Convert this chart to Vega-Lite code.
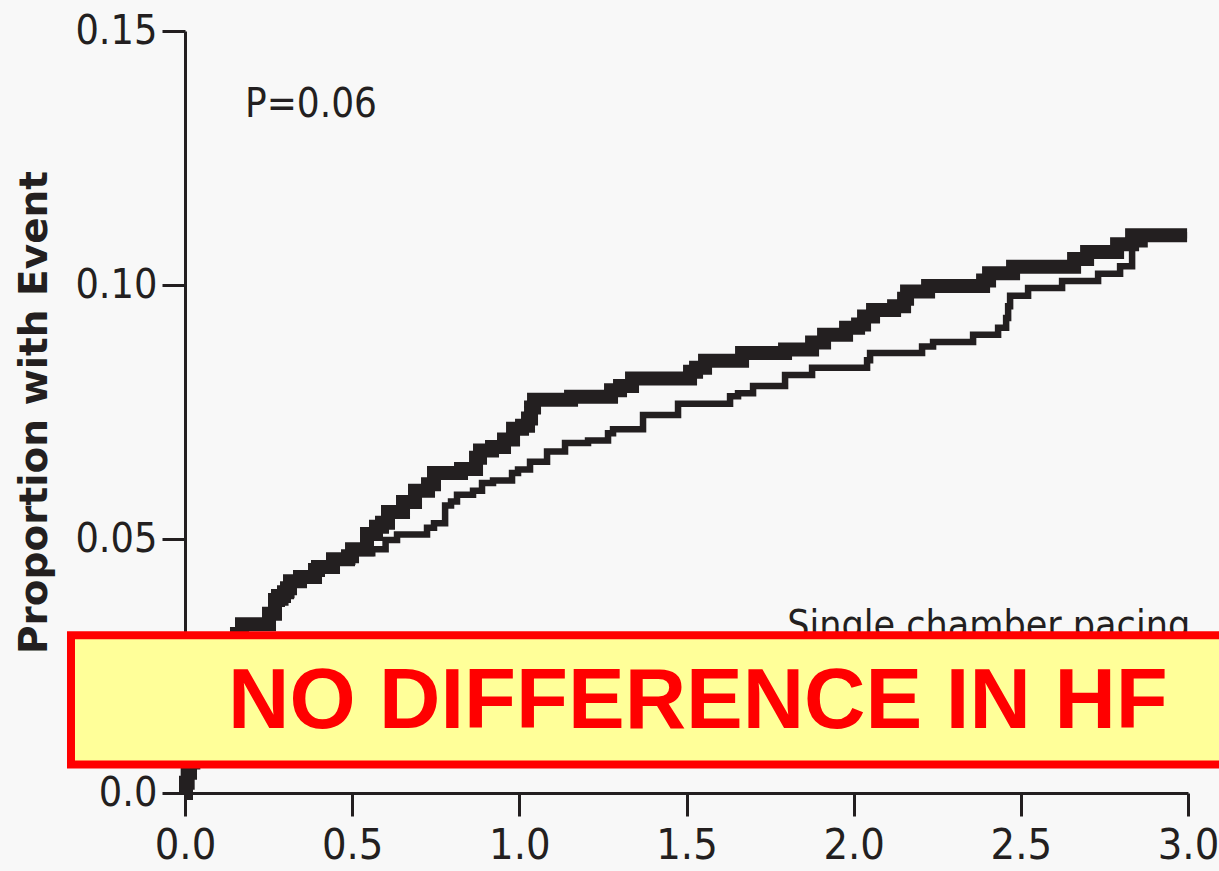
{
  "$schema": "https://vega.github.io/schema/vega-lite/v6.json",
  "width": 1003,
  "height": 762,
  "autosize": {"type": "none"},
  "padding": {"left": 185, "top": 31, "right": 31, "bottom": 78},
  "background": "#f8f8f8",
  "config": {"view": {"stroke": null}},
  "datasets": {
    "curves": [
      {"group": "Single chamber pacing", "t": 0.000, "p": 0.0000},
      {"group": "Single chamber pacing", "t": 0.004, "p": 0.0020},
      {"group": "Single chamber pacing", "t": 0.010, "p": 0.0040},
      {"group": "Single chamber pacing", "t": 0.018, "p": 0.0060},
      {"group": "Single chamber pacing", "t": 0.030, "p": 0.0090},
      {"group": "Single chamber pacing", "t": 0.045, "p": 0.0130},
      {"group": "Single chamber pacing", "t": 0.065, "p": 0.0170},
      {"group": "Single chamber pacing", "t": 0.085, "p": 0.0210},
      {"group": "Single chamber pacing", "t": 0.105, "p": 0.0250},
      {"group": "Single chamber pacing", "t": 0.130, "p": 0.0285},
      {"group": "Single chamber pacing", "t": 0.160, "p": 0.0310},
      {"group": "Single chamber pacing", "t": 0.175, "p": 0.0327},
      {"group": "Single chamber pacing", "t": 0.255, "p": 0.0348},
      {"group": "Single chamber pacing", "t": 0.272, "p": 0.0375},
      {"group": "Single chamber pacing", "t": 0.300, "p": 0.0390},
      {"group": "Single chamber pacing", "t": 0.318, "p": 0.0411},
      {"group": "Single chamber pacing", "t": 0.348, "p": 0.0420},
      {"group": "Single chamber pacing", "t": 0.400, "p": 0.0439},
      {"group": "Single chamber pacing", "t": 0.445, "p": 0.0455},
      {"group": "Single chamber pacing", "t": 0.500, "p": 0.0472},
      {"group": "Single chamber pacing", "t": 0.560, "p": 0.0480},
      {"group": "Single chamber pacing", "t": 0.600, "p": 0.0498},
      {"group": "Single chamber pacing", "t": 0.6342, "p": 0.0509},
      {"group": "Single chamber pacing", "t": 0.7239, "p": 0.0522},
      {"group": "Single chamber pacing", "t": 0.7448, "p": 0.0531},
      {"group": "Single chamber pacing", "t": 0.7780, "p": 0.0566},
      {"group": "Single chamber pacing", "t": 0.7957, "p": 0.0574},
      {"group": "Single chamber pacing", "t": 0.8136, "p": 0.0587},
      {"group": "Single chamber pacing", "t": 0.8615, "p": 0.0595},
      {"group": "Single chamber pacing", "t": 0.8884, "p": 0.0610},
      {"group": "Single chamber pacing", "t": 0.9213, "p": 0.0615},
      {"group": "Single chamber pacing", "t": 0.9782, "p": 0.0630},
      {"group": "Single chamber pacing", "t": 0.9961, "p": 0.0637},
      {"group": "Single chamber pacing", "t": 1.0320, "p": 0.0652},
      {"group": "Single chamber pacing", "t": 1.0829, "p": 0.0672},
      {"group": "Single chamber pacing", "t": 1.1367, "p": 0.0689},
      {"group": "Single chamber pacing", "t": 1.2055, "p": 0.0694},
      {"group": "Single chamber pacing", "t": 1.2653, "p": 0.0708},
      {"group": "Single chamber pacing", "t": 1.2803, "p": 0.0716},
      {"group": "Single chamber pacing", "t": 1.3700, "p": 0.0744},
      {"group": "Single chamber pacing", "t": 1.4747, "p": 0.0766},
      {"group": "Single chamber pacing", "t": 1.6303, "p": 0.0781},
      {"group": "Single chamber pacing", "t": 1.6542, "p": 0.0787},
      {"group": "Single chamber pacing", "t": 1.6991, "p": 0.0801},
      {"group": "Single chamber pacing", "t": 1.7948, "p": 0.0823},
      {"group": "Single chamber pacing", "t": 1.8756, "p": 0.0837},
      {"group": "Single chamber pacing", "t": 2.0401, "p": 0.0852},
      {"group": "Single chamber pacing", "t": 2.0491, "p": 0.0866},
      {"group": "Single chamber pacing", "t": 2.2046, "p": 0.0879},
      {"group": "Single chamber pacing", "t": 2.2375, "p": 0.0888},
      {"group": "Single chamber pacing", "t": 2.3572, "p": 0.0902},
      {"group": "Single chamber pacing", "t": 2.4320, "p": 0.0916},
      {"group": "Single chamber pacing", "t": 2.4560, "p": 0.0935},
      {"group": "Single chamber pacing", "t": 2.4620, "p": 0.0958},
      {"group": "Single chamber pacing", "t": 2.4679, "p": 0.0979},
      {"group": "Single chamber pacing", "t": 2.5217, "p": 0.0994},
      {"group": "Single chamber pacing", "t": 2.6234, "p": 0.1008},
      {"group": "Single chamber pacing", "t": 2.7311, "p": 0.1022},
      {"group": "Single chamber pacing", "t": 2.7969, "p": 0.1037},
      {"group": "Single chamber pacing", "t": 2.8328, "p": 0.1080},
      {"group": "Single chamber pacing", "t": 2.8700, "p": 0.1098},
      {"group": "Single chamber pacing", "t": 2.9973, "p": 0.1098},
      {"group": "Dual chamber pacing", "t": 0.000, "p": 0.0000},
      {"group": "Dual chamber pacing", "t": 0.003, "p": 0.0020},
      {"group": "Dual chamber pacing", "t": 0.008, "p": 0.0040},
      {"group": "Dual chamber pacing", "t": 0.015, "p": 0.0060},
      {"group": "Dual chamber pacing", "t": 0.025, "p": 0.0090},
      {"group": "Dual chamber pacing", "t": 0.040, "p": 0.0130},
      {"group": "Dual chamber pacing", "t": 0.060, "p": 0.0170},
      {"group": "Dual chamber pacing", "t": 0.080, "p": 0.0210},
      {"group": "Dual chamber pacing", "t": 0.100, "p": 0.0250},
      {"group": "Dual chamber pacing", "t": 0.125, "p": 0.0290},
      {"group": "Dual chamber pacing", "t": 0.1555, "p": 0.0313},
      {"group": "Dual chamber pacing", "t": 0.1705, "p": 0.0332},
      {"group": "Dual chamber pacing", "t": 0.2513, "p": 0.0353},
      {"group": "Dual chamber pacing", "t": 0.2692, "p": 0.0380},
      {"group": "Dual chamber pacing", "t": 0.2782, "p": 0.0388},
      {"group": "Dual chamber pacing", "t": 0.2961, "p": 0.0395},
      {"group": "Dual chamber pacing", "t": 0.3051, "p": 0.0403},
      {"group": "Dual chamber pacing", "t": 0.3141, "p": 0.0417},
      {"group": "Dual chamber pacing", "t": 0.3440, "p": 0.0425},
      {"group": "Dual chamber pacing", "t": 0.3889, "p": 0.0439},
      {"group": "Dual chamber pacing", "t": 0.3978, "p": 0.0445},
      {"group": "Dual chamber pacing", "t": 0.4427, "p": 0.0460},
      {"group": "Dual chamber pacing", "t": 0.4876, "p": 0.0466},
      {"group": "Dual chamber pacing", "t": 0.4996, "p": 0.0480},
      {"group": "Dual chamber pacing", "t": 0.5444, "p": 0.0510},
      {"group": "Dual chamber pacing", "t": 0.5713, "p": 0.0524},
      {"group": "Dual chamber pacing", "t": 0.5893, "p": 0.0532},
      {"group": "Dual chamber pacing", "t": 0.6072, "p": 0.0553},
      {"group": "Dual chamber pacing", "t": 0.6521, "p": 0.0573},
      {"group": "Dual chamber pacing", "t": 0.6880, "p": 0.0595},
      {"group": "Dual chamber pacing", "t": 0.7269, "p": 0.0608},
      {"group": "Dual chamber pacing", "t": 0.7448, "p": 0.0630},
      {"group": "Dual chamber pacing", "t": 0.8256, "p": 0.0638},
      {"group": "Dual chamber pacing", "t": 0.8705, "p": 0.0660},
      {"group": "Dual chamber pacing", "t": 0.8824, "p": 0.0674},
      {"group": "Dual chamber pacing", "t": 0.9183, "p": 0.0681},
      {"group": "Dual chamber pacing", "t": 0.9542, "p": 0.0696},
      {"group": "Dual chamber pacing", "t": 0.9812, "p": 0.0717},
      {"group": "Dual chamber pacing", "t": 1.0081, "p": 0.0723},
      {"group": "Dual chamber pacing", "t": 1.0260, "p": 0.0737},
      {"group": "Dual chamber pacing", "t": 1.0350, "p": 0.0759},
      {"group": "Dual chamber pacing", "t": 1.0440, "p": 0.0774},
      {"group": "Dual chamber pacing", "t": 1.1547, "p": 0.0780},
      {"group": "Dual chamber pacing", "t": 1.2743, "p": 0.0793},
      {"group": "Dual chamber pacing", "t": 1.3012, "p": 0.0801},
      {"group": "Dual chamber pacing", "t": 1.3371, "p": 0.0816},
      {"group": "Dual chamber pacing", "t": 1.5106, "p": 0.0829},
      {"group": "Dual chamber pacing", "t": 1.5286, "p": 0.0837},
      {"group": "Dual chamber pacing", "t": 1.5555, "p": 0.0851},
      {"group": "Dual chamber pacing", "t": 1.6662, "p": 0.0866},
      {"group": "Dual chamber pacing", "t": 1.7948, "p": 0.0873},
      {"group": "Dual chamber pacing", "t": 1.8756, "p": 0.0887},
      {"group": "Dual chamber pacing", "t": 1.9115, "p": 0.0902},
      {"group": "Dual chamber pacing", "t": 1.9773, "p": 0.0916},
      {"group": "Dual chamber pacing", "t": 2.0132, "p": 0.0922},
      {"group": "Dual chamber pacing", "t": 2.0311, "p": 0.0938},
      {"group": "Dual chamber pacing", "t": 2.0580, "p": 0.0951},
      {"group": "Dual chamber pacing", "t": 2.1209, "p": 0.0958},
      {"group": "Dual chamber pacing", "t": 2.1508, "p": 0.0973},
      {"group": "Dual chamber pacing", "t": 2.1597, "p": 0.0987},
      {"group": "Dual chamber pacing", "t": 2.2226, "p": 0.0998},
      {"group": "Dual chamber pacing", "t": 2.3871, "p": 0.1009},
      {"group": "Dual chamber pacing", "t": 2.4050, "p": 0.1023},
      {"group": "Dual chamber pacing", "t": 2.4768, "p": 0.1036},
      {"group": "Dual chamber pacing", "t": 2.6593, "p": 0.1051},
      {"group": "Dual chamber pacing", "t": 2.6982, "p": 0.1065},
      {"group": "Dual chamber pacing", "t": 2.7879, "p": 0.1080},
      {"group": "Dual chamber pacing", "t": 2.8328, "p": 0.1098},
      {"group": "Dual chamber pacing", "t": 2.9973, "p": 0.1098}
    ],
    "box": [
      {"t": -0.341, "t2": 3.3, "p": 0.03106, "p2": 0.00562}
    ]
  },
  "layer": [
    {
      "data": {"name": "curves"},
      "mark": {"type": "line", "interpolate": "step-after", "color": "#231f20", "strokeCap": "butt"},
      "encoding": {
        "x": {
          "field": "t", "type": "quantitative",
          "scale": {"domain": [0, 3], "nice": false, "zero": false},
          "axis": {
            "values": [0, 0.5, 1, 1.5, 2, 2.5, 3],
            "format": ".1f",
            "title": null,
            "grid": false,
            "domainColor": "#231f20", "domainWidth": 3,
            "tickColor": "#231f20", "tickWidth": 3, "tickSize": 23,
            "labelFont": "DejaVu Sans Condensed, sans-serif",
            "labelFontSize": 43, "labelColor": "#231f20",
            "labelPadding": 8, "labelOverlap": false, "labelFlush": false, "labelBound": false
          }
        },
        "y": {
          "field": "p", "type": "quantitative",
          "scale": {"domain": [0, 0.15], "nice": false, "zero": false},
          "axis": {
            "values": [0, 0.05, 0.1, 0.15],
            "labelExpr": "datum.value == 0 ? '0.0' : format(datum.value, '.2f')",
            "title": "Proportion with Event",
            "titleFont": "DejaVu Sans", "titleFontWeight": "bold", "titleFontSize": 39,
            "titleColor": "#231f20", "titlePadding": 20,
            "grid": false,
            "domainColor": "#231f20", "domainWidth": 3,
            "tickColor": "#231f20", "tickWidth": 3, "tickSize": 23,
            "labelFont": "DejaVu Sans Condensed, sans-serif",
            "labelFontSize": 41, "labelColor": "#231f20",
            "labelPadding": 5, "labelOverlap": false, "labelFlush": false, "labelBound": false
          }
        },
        "strokeWidth": {
          "field": "group", "type": "nominal",
          "scale": {"domain": ["Single chamber pacing", "Dual chamber pacing"], "range": [6.5, 14]},
          "legend": null
        },
        "detail": {"field": "group"}
      }
    },
    {
      "data": {"values": [{"label": "Single chamber pacing", "t": 1.801, "p": 0.0305}]},
      "mark": {"type": "text", "align": "left", "baseline": "alphabetic", "font": "DejaVu Sans Condensed, sans-serif", "fontSize": 39, "color": "#231f20"},
      "encoding": {
        "x": {"field": "t", "type": "quantitative"},
        "y": {"field": "p", "type": "quantitative"},
        "text": {"field": "label"}
      }
    },
    {
      "data": {"name": "box"},
      "mark": {"type": "rect", "fill": "#ffff99", "stroke": "#ff0000", "strokeWidth": 8},
      "encoding": {
        "x": {"field": "t", "type": "quantitative"},
        "x2": {"field": "t2"},
        "y": {"field": "p", "type": "quantitative"},
        "y2": {"field": "p2"}
      }
    },
    {
      "data": {"values": [{"label": "NO DIFFERENCE IN HF", "t": 0.1286, "p": 0.0128}]},
      "mark": {"type": "text", "align": "left", "baseline": "alphabetic", "font": "Liberation Sans, Arial, sans-serif", "fontWeight": "bold", "fontSize": 85, "color": "#ff0000"},
      "encoding": {
        "x": {"field": "t", "type": "quantitative"},
        "y": {"field": "p", "type": "quantitative"},
        "text": {"field": "label"}
      }
    },
    {
      "data": {"values": [{"label": "P=0.06", "t": 0.1795, "p": 0.1330}]},
      "mark": {"type": "text", "align": "left", "baseline": "alphabetic", "font": "DejaVu Sans Condensed, sans-serif", "fontSize": 40, "color": "#231f20"},
      "encoding": {
        "x": {"field": "t", "type": "quantitative"},
        "y": {"field": "p", "type": "quantitative"},
        "text": {"field": "label"}
      }
    }
  ]
}
